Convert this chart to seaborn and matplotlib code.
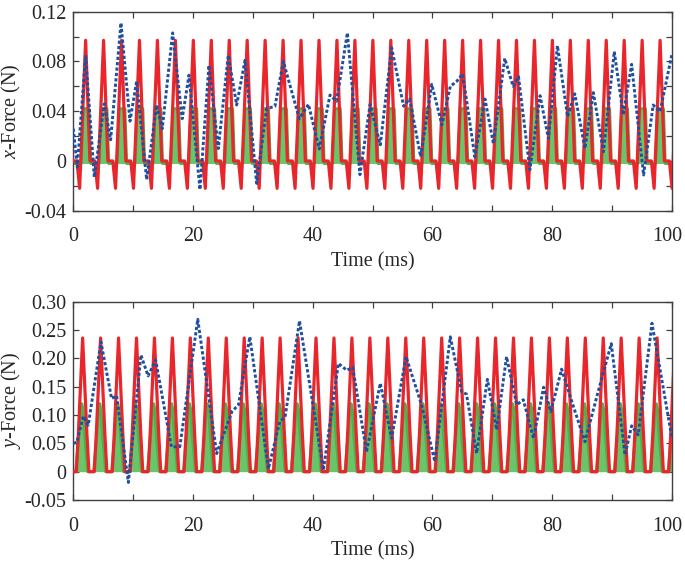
import numpy as np
import pandas as pd
import matplotlib
matplotlib.use("Agg")
import matplotlib.pyplot as plt
import matplotlib.transforms as mtransforms
import seaborn as sns

# ---- data (time in ms, force in N) ----
# red / green traces repeat every cycle: offsets (ms) from each red peak and values
x_red_phase = [0.0, 0.72, 1.55, 2.0]
x_red_val = [0.097, 0.0, 0.0, -0.022]
x_green_phase = [-0.75, -0.4, 0.55, 0.85, 1.9]
x_green_val = [-0.002, 0.042, 0.042, -0.002, -0.002]
x_peaks = [-0.94, 2.06, 5.06, 8.06, 11.06, 14.06, 17.06, 20.06, 23.06, 26.06, 29.06,
           32.06, 35.06, 38.06, 41.06, 44.06, 47.06, 50.06, 53.06, 56.06, 59.06, 62.06,
           65.06, 68.06, 71.06, 74.06, 77.06, 80.06, 83.06, 86.06, 89.06, 92.06, 95.06,
           98.06, 101.06]

y_red_phase = [-1.05, -0.7, -0.35, 0.0, 0.35, 0.7, 1.05]
y_red_val = [0.0, 0.07, 0.152, 0.236, 0.152, 0.07, 0.0]
y_green_phase = [-1.0, -0.5, -0.2, 0.0, 0.2, 0.5, 1.0]
y_green_val = [0.0, 0.062, 0.11, 0.12, 0.11, 0.062, 0.0]
y_red_peaks = [-1.44, 1.56, 4.56, 7.56, 10.56, 13.56, 16.56, 19.56, 22.56, 25.56, 28.56,
               31.56, 34.56, 37.56, 40.56, 43.56, 46.56, 49.56, 52.56, 55.56, 58.56, 61.56,
               64.56, 67.56, 70.56, 73.56, 76.56, 79.56, 82.56, 85.56, 88.56, 91.56, 94.56,
               97.56, 100.56]
y_green_peaks = [p - 0.15 for p in y_red_peaks]

# blue dotted traces
x_blue_t = [0, 0.67, 2.06, 3.51, 5.18, 6.24, 7.97, 9.47, 10.58, 12.26, 13.93, 14.87, 16.6,
            18.2, 19.33, 21.17, 22.67, 24.23, 25.9, 27.3, 28.7, 30.64, 32.3, 33.7, 35.1,
            37.77, 39.3, 41.1, 42.9, 44.0, 45.8, 47.9, 49.6, 51.3, 53.2, 55.2, 56.2, 58.05,
            59.9, 61.6, 63.0, 64.07, 65.07, 67.1, 68.8, 70.2, 72.1, 73.5, 74.4, 76.3, 78.0,
            79.4, 80.9, 82.6, 83.8, 85.5, 86.9, 88.6, 90.4, 91.9, 93.3, 95.3, 96.9, 98.05,
            100.0]
x_blue_f = [0.026, -0.005, 0.085, -0.013, 0.046, 0.017, 0.111, 0.032, 0.064, -0.015, 0.045,
            0.026, 0.103, 0.034, 0.069, -0.023, 0.077, 0.010, 0.085, 0.045, 0.081, -0.018,
            0.042, 0.044, 0.080, 0.034, 0.0455, 0.0096, 0.053, 0.048, 0.103, -0.011, 0.0455,
            0.013, 0.091, 0.044, 0.050, 0.0034, 0.0616, 0.029, 0.060, 0.064, 0.070, 0.0034,
            0.0498, 0.014, 0.0825, 0.060, 0.0677, -0.007, 0.0525, 0.018, 0.0927, 0.0356,
            0.054, 0.010, 0.055, 0.0074, 0.088, 0.037, 0.0777, -0.0113, 0.045, 0.0396, 0.085]

y_blue_t = [0, 0.6, 1.67, 2.5, 4.62, 6.4, 7.24, 9.2, 11.3, 12.5, 13.76, 16.4, 17.8, 20.8,
            23.96, 26.5, 27.6, 29.5, 32.6, 34.5, 35.4, 37.8, 41.8, 44.3, 45.7, 46.7, 49.0,
            51.3, 53.2, 55.6, 58.2, 60.4, 63.0, 64.9, 65.7, 67.4, 69.2, 70.75, 72.4, 74.1,
            75.2, 76.9, 78.6, 79.8, 81.6, 83.3, 85.5, 87.7, 89.9, 92.2, 93.3, 94.4, 96.7,
            100.0]
y_blue_f = [0.050, 0.052, 0.098, 0.082, 0.229, 0.129, 0.134, -0.019, 0.206, 0.169, 0.197,
            0.044, 0.044, 0.269, 0.032, 0.106, 0.118, 0.238, 0.005, 0.088, 0.097, 0.266,
            0.003, 0.191, 0.179, 0.184, 0.035, 0.156, 0.059, 0.203, 0.118, 0.018, 0.238,
            0.141, 0.137, 0.0325, 0.163, 0.074, 0.203, 0.118, 0.127, 0.059, 0.149, 0.106,
            0.181, 0.124, 0.053, 0.141, 0.226, 0.0295, 0.081, 0.065, 0.262, 0.062]


def build(peaks, phase, vals):
    t = np.concatenate([np.asarray(phase) + p for p in peaks])
    v = np.tile(vals, len(peaks))
    return pd.DataFrame({"t": t, "f": v})


RED = "#e8262b"
GREEN = "#4fb04d"
GREEN_FILL = "#6cc46a"
BLUE = "#1f4f9f"
SPINE = "#404040"

sns.set_style("ticks")
plt.rcParams["font.family"] = ["Liberation Serif", "DejaVu Serif"]
plt.rcParams["mathtext.fontset"] = "custom"
plt.rcParams["mathtext.it"] = "Liberation Serif:italic"
plt.rcParams["mathtext.rm"] = "Liberation Serif"

fig = plt.figure(figsize=(6.85, 5.61), dpi=100)
ax1 = fig.add_axes([0.107, 0.6244, 0.8736, 0.3547])
ax2 = fig.add_axes([0.107, 0.1087, 0.8736, 0.3535])

panels = [
    (ax1, build(x_peaks, x_green_phase, x_green_val), -0.002,
     build(x_peaks, x_red_phase, x_red_val), x_blue_t, x_blue_f,
     (-0.04, 0.12), np.arange(-0.04, 0.1201, 0.02),
     ["-0.04", "", "0", "", "0.04", "", "0.08", "", "0.12"], "$x$-Force (N)"),
    (ax2, build(y_green_peaks, y_green_phase, y_green_val), 0.0,
     build(y_red_peaks, y_red_phase, y_red_val), y_blue_t, y_blue_f,
     (-0.05, 0.30), np.arange(-0.05, 0.3001, 0.05),
     ["-0.05", "0", "0.05", "0.10", "0.15", "0.20", "0.25", "0.30"], "$y$-Force (N)"),
]

shift_left = mtransforms.ScaledTranslation(-4 / 100, 0, fig.dpi_scale_trans)

for ax, green, base, red, bt, bf, ylim, yticks, ylabels, ylab in panels:
    ax.fill_between(green["t"], base, green["f"], color=GREEN_FILL, lw=0, zorder=1)
    sns.lineplot(data=green, x="t", y="f", ax=ax, color=GREEN, lw=2.2,
                 estimator=None, sort=False, zorder=2)
    sns.lineplot(data=red, x="t", y="f", ax=ax, color=RED, lw=2.3,
                 estimator=None, sort=False, zorder=3)
    sns.lineplot(x=bt, y=bf, ax=ax, color=BLUE, lw=2.1, dashes=False,
                 estimator=None, sort=False, zorder=4)
    ax.lines[-1].set_dashes((1.1, 0.75))
    ax.lines[-1].set_dash_capstyle("butt")
    ax.lines[-1].set_solid_joinstyle("round")

    ax.set_xlim(0, 100)
    ax.set_ylim(*ylim)
    ax.set_xticks(np.arange(0, 101, 10))
    ax.set_xticklabels(["0", "", "20", "", "40", "", "60", "", "80", "", "100"])
    ax.set_yticks(yticks)
    ax.set_yticklabels(ylabels)
    ax.tick_params(direction="in", length=4, width=0.9, color=SPINE,
                   top=True, right=True, labelsize=14.5, pad=5)
    ax.tick_params(axis="x", pad=12)
    last = ax.get_xticklabels()[-1]
    last.set_transform(last.get_transform() + shift_left)
    for s in ax.spines.values():
        s.set_visible(True)
        s.set_color(SPINE)
        s.set_linewidth(1.0)
    ax.set_xlabel("Time (ms)", fontsize=14.5, labelpad=4)
    ax.set_ylabel(ylab, fontsize=14.5)
    ax.yaxis.set_label_coords(-0.084, 0.5)

fig.savefig("out.png", dpi=100)
